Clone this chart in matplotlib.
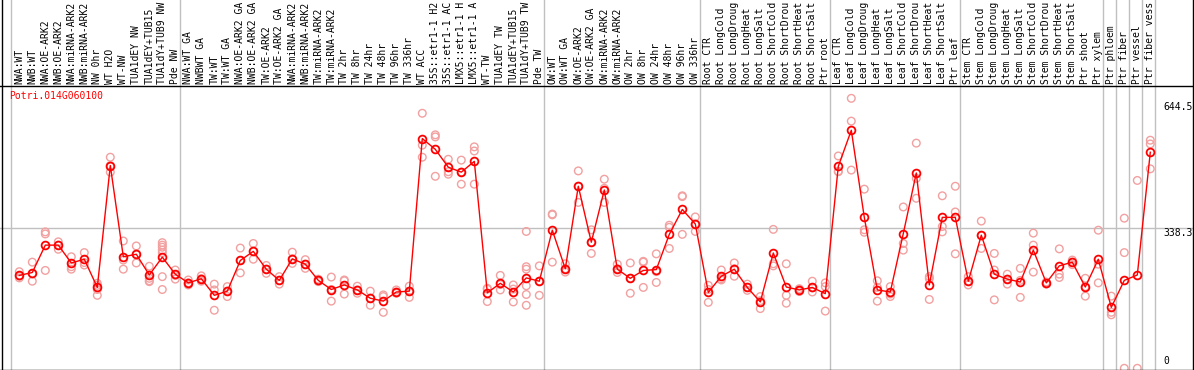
import matplotlib
matplotlib.use("Agg")
import matplotlib.pyplot as plt
import matplotlib.transforms as mtransforms
from matplotlib.lines import Line2D

# ---------------- data ----------------
gene_id = "Potri.014G060100"

labels = [
    "NWA:WT", "NWB:WT", "NWA:OE-ARK2", "NWB:OE-ARK2", "NWA:miRNA-ARK2", "NWB:miRNA-ARK2",
    "NW 0hr", "WT H2O", "WT-NW", "TUA1dEY NW", "TUA1dEY+TUB15", "TUA1dY+TUB9 NW", "Pde NW",
    "NWA:WT GA", "NWBWT GA", "TW:WT", "TW:WT GA", "NWA:OE-ARK2 GA", "NWB:OE-ARK2 GA",
    "TW:OE-ARK2", "TW:OE-ARK2 GA", "NWA:miRNA-ARK2", "NWB:miRNA-ARK2", "TW:miRNA-ARK2",
    "TW:miRNA-ARK2", "TW 2hr", "TW 8hr", "TW 24hr", "TW 48hr", "TW 96hr", "TW 336hr",
    "WT ACC", "35S::etr1-1 H2", "35S::etr1-1 AC", "LMX5::etr1-1 H", "LMX5::etr1-1 A",
    "WT-TW", "TUA1dEY TW", "TUA1dEY+TUB15", "TUA1dY+TUB9 TW", "Pde TW",
    "OW:WT", "OW:WT GA", "OW:OE-ARK2", "OW:OE-ARK2 GA", "OW:miRNA-ARK2", "OW:miRNA-ARK2",
    "OW 2hr", "OW 8hr", "OW 24hr", "OW 48hr", "OW 96hr", "OW 336hr",
    "Root CTR", "Root LongCold", "Root LongDroug", "Root LongHeat", "Root LongSalt",
    "Root ShortCold", "Root ShortDrou", "Root ShortHeat", "Root ShortSalt", "Ptr root",
    "Leaf CTR", "Leaf LongCold", "Leaf LongDroug", "Leaf LongHeat", "Leaf LongSalt",
    "Leaf ShortCold", "Leaf ShortDrou", "Leaf ShortHeat", "Leaf ShortSalt", "Ptr leaf",
    "Stem CTR", "Stem LongCold", "Stem LongDroug", "Stem LongHeat", "Stem LongSalt",
    "Stem ShortCold", "Stem ShortDrou", "Stem ShortHeat", "Stem ShortSalt", "Ptr shoot",
    "Ptr xylem",
    "Ptr phloem", "Ptr fiber", "Ptr vessel", "Ptr fiber vess",
]

group_sizes = [13, 28, 12, 10, 10, 11, 1, 1, 1, 1]

means = [
    224, 231, 297, 297, 254, 263, 195, 489, 269, 275, 225, 268, 227,
    206, 216, 176, 186, 260, 282, 239, 212, 264, 251, 212, 190, 201, 189, 169, 162, 184, 186,
    554, 528, 485, 473, 499, 182, 205, 184, 218, 210,
    333, 240, 439, 304, 430, 239, 217, 236, 238, 323, 383, 348,
    183, 222, 239, 195, 160, 278, 196, 189, 195, 180,
    487, 574, 364, 189, 184, 325, 471, 201, 364, 364,
    210, 321, 227, 215, 208, 285, 206, 247, 256, 196, 263,
    147, 212, 225, 521,
]

replicates = [
    [233, 222, 218], [256, 228, 210], [329, 324, 236], [305, 297, 287], [269, 245, 239],
    [279, 255, 249], [205, 200, 190, 176], [509, 489, 473], [307, 261, 239], [295, 275, 254],
    [246, 217, 211, 209], [303, 297, 292, 285, 279, 221, 190], [237, 224, 215],
    [213, 206, 201], [223, 216, 210], [203, 189, 140], [197, 186, 173], [290, 260, 230],
    [301, 282, 263], [248, 239, 229], [221, 212, 203], [280, 264, 253], [262, 251, 241],
    [215, 212, 209], [220, 190, 162], [211, 213, 179], [198, 189, 181], [186, 169, 152],
    [177, 173, 135], [189, 184, 181], [198, 186, 171], [615, 538, 509], [563, 558, 463],
    [504, 474, 468], [502, 473, 444], [534, 524, 444], [193, 191, 161], [224, 202, 189],
    [201, 191, 160], [330, 245, 239, 199, 178, 152], [247, 210, 176],
    [372, 370, 256], [252, 240, 232], [476, 439, 400], [334, 304, 277], [456, 434, 400],
    [251, 240, 231], [254, 217, 181], [258, 256, 195], [276, 233, 207], [345, 340, 289],
    [416, 414, 323], [365, 348, 330],
    [200, 190, 159], [237, 216, 213], [254, 240, 222], [203, 195, 188], [173, 163, 144],
    [335, 252, 247], [252, 176, 157], [192, 189, 185], [210, 194, 184], [206, 197, 138],
    [512, 475, 474], [651, 596, 478], [432, 334, 328], [211, 195, 162], [197, 179, 173],
    [389, 301, 285], [543, 458, 410], [216, 221, 166], [416, 342, 329], [439, 377, 276],
    [221, 210, 201], [355, 320, 289], [277, 237, 165], [227, 215, 203], [241, 212, 171],
    [326, 297, 232], [208, 206, 203], [288, 227, 219], [261, 256, 250], [217, 197, 174],
    [333, 251, 206],
    [174, 135, 129], [362, 279, 0], [453, 0], [550, 541, 481],
]

axis_max_label = 644.5
axis_mid_label = 338.3

# ---------------- layout ----------------
W, H = 1194, 370
fig = plt.figure(figsize=(W / 100, H / 100), dpi=100)
ax = fig.add_axes([0, 0, 1, 1])
ax.set_axis_off()

# pixel geometry of the reference
x0_px, step_px = 19.3, 13.0       # pixel x of first column, column spacing
y0_px, scale_px = 368.3, 0.4147   # pixel y of value 0, pixels per unit

ax.set_xlim(-x0_px / step_px, (W - x0_px) / step_px)
ax.set_ylim((y0_px - H) / scale_px, y0_px / scale_px)

def fx(px):
    return px / W

def fy(py):
    return 1 - py / H

GRID = "#c0c0c0"
RED = "#ff0000"
REP = "#f2a0a0"
MONO = "DejaVu Sans Mono"
FS = 7.05

# horizontal gridline at mid label
ax.axhline(axis_mid_label, color=GRID, lw=1.0, zorder=1)

# vertical group separators
boundaries = [0]
for g in group_sizes:
    boundaries.append(boundaries[-1] + g)
for b in boundaries:
    ax.axvline(b - 0.64, color=GRID, lw=1.0, zorder=1)

# replicates
for i, reps in enumerate(replicates):
    ax.scatter([i] * len(reps), reps, s=30, facecolors="none", edgecolors=REP,
               linewidths=1.0, zorder=2, clip_on=False)

# mean line + markers
xs = list(range(len(means)))
ax.plot(xs, means, color=RED, lw=1.0, zorder=3)
ax.plot(xs, means, ls="none", marker="o", ms=5.6, mfc="none", mec=RED,
        mew=1.3, zorder=4)

# header labels
trans = mtransforms.blended_transform_factory(ax.transData, fig.transFigure)
for i, lab in enumerate(labels):
    ax.text(i, fy(83.8), lab, transform=trans, rotation=90, ha="center",
            va="bottom", fontfamily=MONO, fontsize=FS, color="black")

# frame lines
def pline(x1, y1, x2, y2, color="black", lw=1.0):
    fig.add_artist(Line2D([fx(x1), fx(x2)], [fy(y1), fy(y2)],
                          transform=fig.transFigure, color=color, lw=lw))

pline(0, 85.5, W, 85.5)        # header separator
pline(1.5, 0, 1.5, H)          # left border
pline(W - 1.5, 0, W - 1.5, H)  # right border
pline(0, 369.5, W, 369.5)      # bottom border

# title
fig.text(fx(9.5), fy(91), gene_id, color=RED, fontfamily=MONO, fontsize=FS,
         ha="left", va="top")

# right value labels
fig.text(fx(1163), fy(102.5), f"{axis_max_label}", color="black", fontfamily=MONO,
         fontsize=FS, ha="left", va="top")
fig.text(fx(1163), fy(228.5), f"{axis_mid_label}", color="black", fontfamily=MONO,
         fontsize=FS, ha="left", va="top")
fig.text(fx(1163), fy(366), "0", color="black", fontfamily=MONO,
         fontsize=FS, ha="left", va="bottom")

fig.savefig("out.png", dpi=100)
